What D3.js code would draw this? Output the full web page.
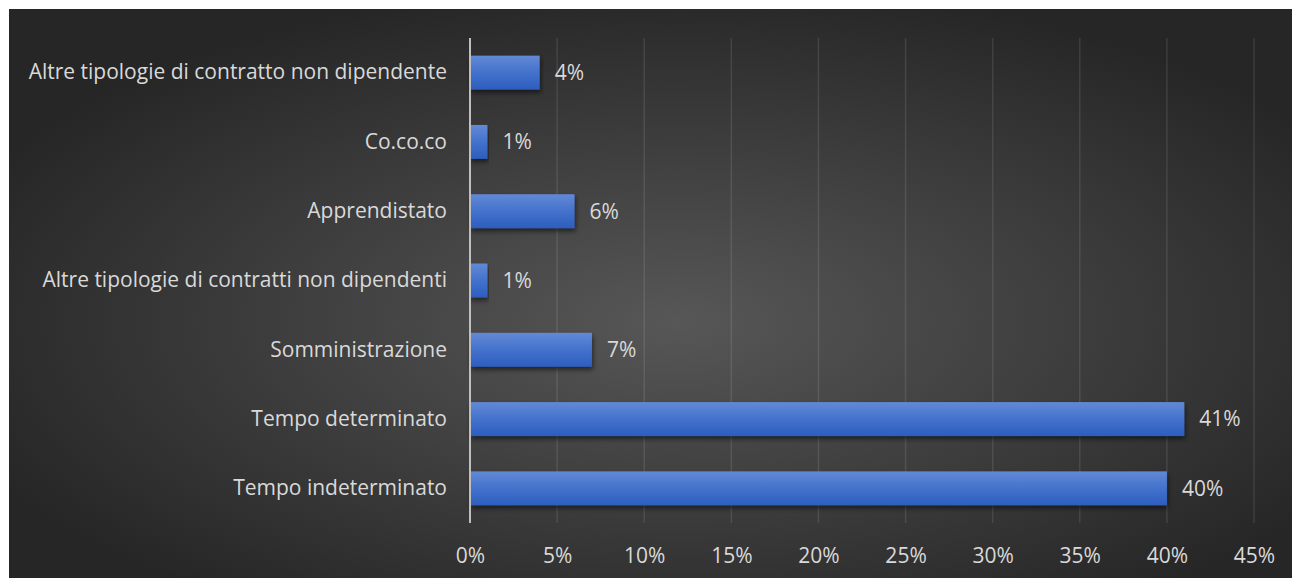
<!DOCTYPE html>
<html>
<head>
<meta charset="utf-8">
<script src="https://cdn.jsdelivr.net/npm/d3@7"></script>
<style>
  html, body { margin: 0; padding: 0; background: #ffffff; }
  svg { display: block; }
  text { font-family: "Open Sans", "Liberation Sans", sans-serif; fill: #d9d9d9; }
</style>
</head>
<body>
<svg id="chart" width="1292" height="578"></svg>
<script>
// Contract types, listed bottom to top as they appear on the chart
const categories = [
  "Tempo indeterminato",
  "Tempo determinato",
  "Somministrazione",
  "Altre tipologie di contratti non dipendenti",
  "Apprendistato",
  "Co.co.co",
  "Altre tipologie di contratto non dipendente"
];
// Share of contracts, percent
const shares = [40, 41, 7, 1, 6, 1, 4];
// Horizontal axis ticks, percent
const xTicks = [0, 5, 10, 15, 20, 25, 30, 35, 40, 45];

const W = 1292, H = 578;
const frame = { x: 9, y: 9, w: W - 9, h: H - 9 };
const plot = { left: 470, right: 1254, top: 38, bottom: 523 };
const FONT = "'Open Sans', 'Liberation Sans', sans-serif";
const FONT_SIZE = 21;

const svg = d3.select("#chart");
const defs = svg.append("defs");

// dark radial backdrop
const bg = defs.append("radialGradient")
  .attr("id", "bgGrad").attr("cx", 0.52).attr("cy", 0.55).attr("r", 0.6);
bg.append("stop").attr("offset", 0).attr("stop-color", "#575757");
bg.append("stop").attr("offset", 1).attr("stop-color", "#262626");

// bar fill
const barGrad = defs.append("linearGradient")
  .attr("id", "barGrad").attr("x1", 0).attr("y1", 0).attr("x2", 0).attr("y2", 1);
barGrad.append("stop").attr("offset", 0).attr("stop-color", "#6389d6");
barGrad.append("stop").attr("offset", 0.5).attr("stop-color", "#4372cc");
barGrad.append("stop").attr("offset", 1).attr("stop-color", "#2d5ebf");

const shadow = defs.append("filter").attr("id", "barShadow")
  .attr("x", "-5%").attr("y", "-20%").attr("width", "110%").attr("height", "160%");
shadow.append("feDropShadow")
  .attr("dx", 1).attr("dy", 3).attr("stdDeviation", 2.5)
  .attr("flood-color", "#000").attr("flood-opacity", 0.55);

svg.append("rect")
  .attr("x", frame.x).attr("y", frame.y)
  .attr("width", frame.w).attr("height", frame.h)
  .attr("fill", "url(#bgGrad)");

const x = d3.scaleLinear().domain([0, 45]).range([plot.left, plot.right]);
const y = d3.scaleBand()
  .domain(categories.slice().reverse())
  .range([plot.top, plot.bottom])
  .paddingInner(0.51).paddingOuter(0.255);

// vertical gridlines
svg.append("g").selectAll("line")
  .data(xTicks.filter(t => t > 0))
  .join("line")
  .attr("x1", d => x(d)).attr("x2", d => x(d))
  .attr("y1", plot.top).attr("y2", plot.bottom)
  .attr("stroke", "rgba(255,255,255,0.1)")
  .attr("stroke-width", 1.5);

// bars
svg.append("g").selectAll("rect")
  .data(categories.map((c, i) => ({ c, v: shares[i] })))
  .join("rect")
  .attr("x", x(0))
  .attr("y", d => y(d.c))
  .attr("width", d => x(d.v) - x(0))
  .attr("height", y.bandwidth())
  .attr("fill", "url(#barGrad)")
  .attr("filter", "url(#barShadow)");

// value axis (zero line)
svg.append("line")
  .attr("x1", x(0)).attr("x2", x(0))
  .attr("y1", plot.top).attr("y2", plot.bottom)
  .attr("stroke", "#bfbfbf").attr("stroke-width", 2);

// category labels
const yAxis = d3.axisLeft(y).tickSize(0).tickPadding(23);
const gy = svg.append("g").attr("transform", `translate(${plot.left},0)`).call(yAxis);
gy.select(".domain").remove();
gy.selectAll("text")
  .attr("font-family", FONT)
  .attr("font-size", FONT_SIZE)
  .attr("fill", "#d9d9d9");

// value tick labels
const xAxis = d3.axisBottom(x).tickValues(xTicks).tickSize(0).tickPadding(0)
  .tickFormat(d => d + "%");
const gx = svg.append("g").attr("transform", `translate(0,${plot.bottom + 25})`).call(xAxis);
gx.select(".domain").remove();
gx.selectAll("text")
  .attr("font-family", FONT)
  .attr("font-size", FONT_SIZE)
  .attr("fill", "#d9d9d9");

// data labels
svg.append("g").selectAll("text")
  .data(categories.map((c, i) => ({ c, v: shares[i] })))
  .join("text")
  .attr("x", d => x(d.v) + 15)
  .attr("y", d => y(d.c) + y.bandwidth() / 2)
  .attr("dy", "0.35em")
  .attr("font-family", FONT)
  .attr("font-size", FONT_SIZE)
  .text(d => d.v + "%");
</script>
</body>
</html>
